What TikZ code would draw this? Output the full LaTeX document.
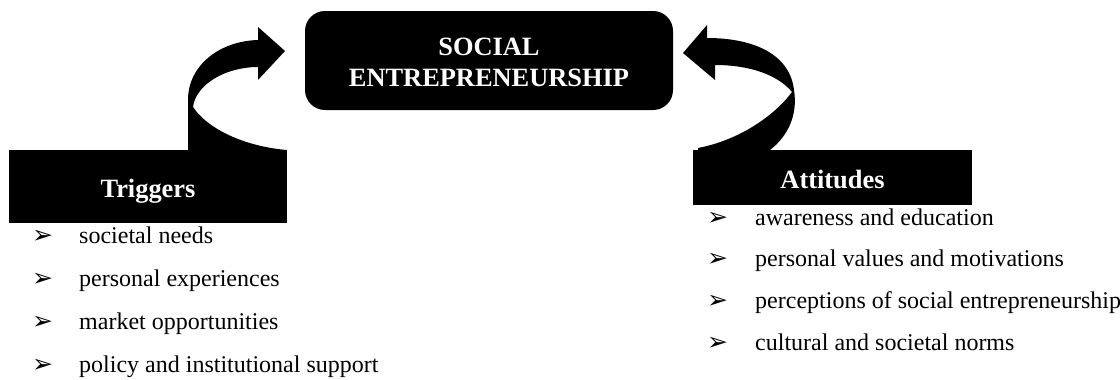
\documentclass[tikz,border=0pt]{standalone}
\usepackage{fontspec}
\setmainfont{Liberation Serif}
\newfontfamily\symfont{DejaVu Sans}
\begin{document}
\begin{tikzpicture}[x=1pt,y=-1pt,
  blackbox/.style={fill=black, draw=none, inner sep=0pt},
  head/.style={font=\fontsize{26.4}{31.7}\selectfont\bfseries, text=white, inner sep=0pt},
  item/.style={font=\fontsize{24}{28}\selectfont, anchor=base west, inner sep=0pt},
  bul/.style={font=\symfont\fontsize{25}{28}\selectfont, anchor=base west, inner sep=0pt}]
\useasboundingbox[fill=white] (0,0) rectangle (1120,380);
% central box
\node[blackbox, rounded corners=20pt, minimum width=368pt, minimum height=99pt] (se) at (489,60.5) {};
\node[head, align=center] (setext) at (489,62.5) {SOCIAL\\ENTREPRENEURSHIP};
% side boxes
\node[blackbox, minimum width=278pt, minimum height=73pt] (tr) at (148,186) {};
\node[head, anchor=base] (trtext) at (148,197) {Triggers};
\node[blackbox, minimum width=279pt, minimum height=55pt] (at) at (832.5,177.5) {};
\node[head, anchor=base] (attext) at (832.5,188) {Attitudes};
% left curved arrow
\fill (188,150) -- (188,100) .. controls (188,65) and (220,41) .. (258,40) -- (258,27) -- (285,51) -- (258,80) -- (258,67) .. controls (226,67) and (196,84) .. (193,107) .. controls (210,132) and (250,147) .. (287,150) -- cycle;
% right curved arrow
\fill (770,150) .. controls (788,136) and (798,115) .. (794,90) .. controls (790,55) and (755,38) .. (707,38) -- (707,25) -- (683,53) -- (715,80) -- (715,65) .. controls (750,65) and (778,75) .. (792,92) .. controls (775,115) and (740,140) .. (698,148) -- (698,150) -- cycle;
% left list
\foreach \t [count=\i] in {societal needs, personal experiences, market opportunities, policy and institutional support}{
  \pgfmathsetmacro{\yy}{243+43.3*(\i-1)}
  \node[bul] (lb\i) at (32,\yy) {➢};
  \node[item] (lt\i) at (79,\yy) {\t};
}
% right list
\foreach \t [count=\i] in {awareness and education, personal values and motivations, perceptions of social entrepreneurship, cultural and societal norms}{
  \pgfmathsetmacro{\yy}{225+41.7*(\i-1)}
  \node[bul] (rb\i) at (707,\yy) {➢};
  \node[item] (rt\i) at (755,\yy) {\t};
}
\end{tikzpicture}
\end{document}
